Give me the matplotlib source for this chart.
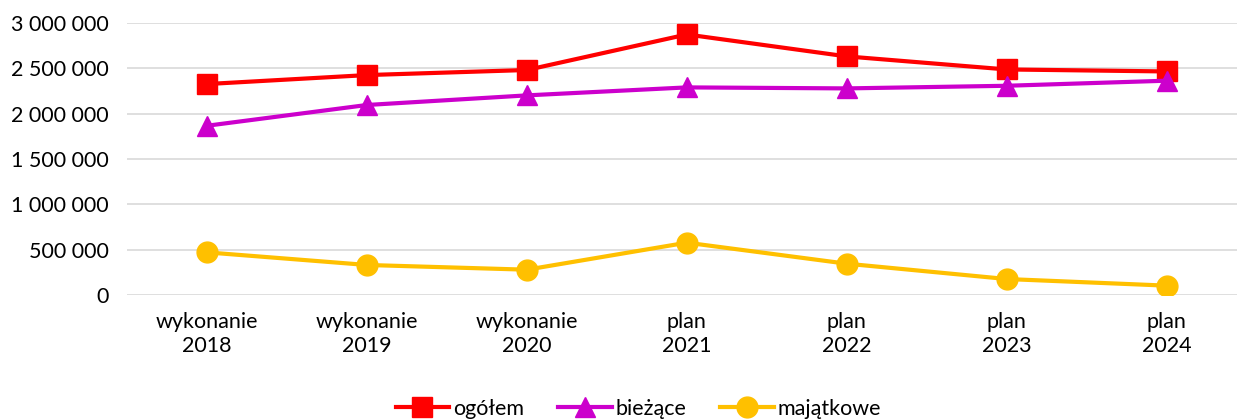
from matplotlib import pyplot as plt
from matplotlib.ticker import FuncFormatter

kategorie = ["wykonanie\n2018", "wykonanie\n2019", "wykonanie\n2020",
             "plan\n2021", "plan\n2022", "plan\n2023", "plan\n2024"]
ogolem = [2327000, 2426000, 2482000, 2874000, 2632000, 2488000, 2466000]
biezace = [1867000, 2096000, 2202000, 2290000, 2279000, 2308000, 2364000]
majatkowe = [470000, 331000, 279000, 577000, 345000, 176000, 103000]

plt.rcParams["font.family"] = ["Lato", "DejaVu Sans"]

fig = plt.figure(figsize=(12.37, 4.19), dpi=100)
ax = fig.add_axes([0.1027, 0.296, 0.8973, 0.649])

x = range(len(kategorie))
ax.plot(x, ogolem, color="#FF0000", lw=3, marker="s", ms=14, label="ogółem", zorder=3)
ax.plot(x, biezace, color="#CC00CC", lw=3, marker="^", ms=15, label="bieżące", zorder=3)
ax.plot(x, majatkowe, color="#FFC000", lw=3, marker="o", ms=15, label="majątkowe", zorder=3)

ax.set_ylim(0, 3000000)
ax.set_xlim(-0.5, 6.44)
ax.set_yticks(range(0, 3000001, 500000))
ax.yaxis.set_major_formatter(FuncFormatter(lambda v, p: f"{int(v):,}".replace(",", " ")))
ax.set_xticks(list(x))
ax.set_xticklabels(kategorie, linespacing=1.25)
ax.tick_params(length=0, labelsize=15.5, colors="#000000")
ax.tick_params(axis="y", pad=13)
ax.tick_params(axis="x", pad=12)
ax.grid(axis="y", color="#d9d9d9", lw=1.2)
ax.set_axisbelow(True)
for s in ax.spines.values():
    s.set_visible(False)

leg = fig.legend(loc="center", bbox_to_anchor=(0.516, 0.025), ncol=3, frameon=False,
                 fontsize=15.5, handlelength=2.5, columnspacing=1.6, handletextpad=0.15)

fig.savefig("out.png", dpi=100)
